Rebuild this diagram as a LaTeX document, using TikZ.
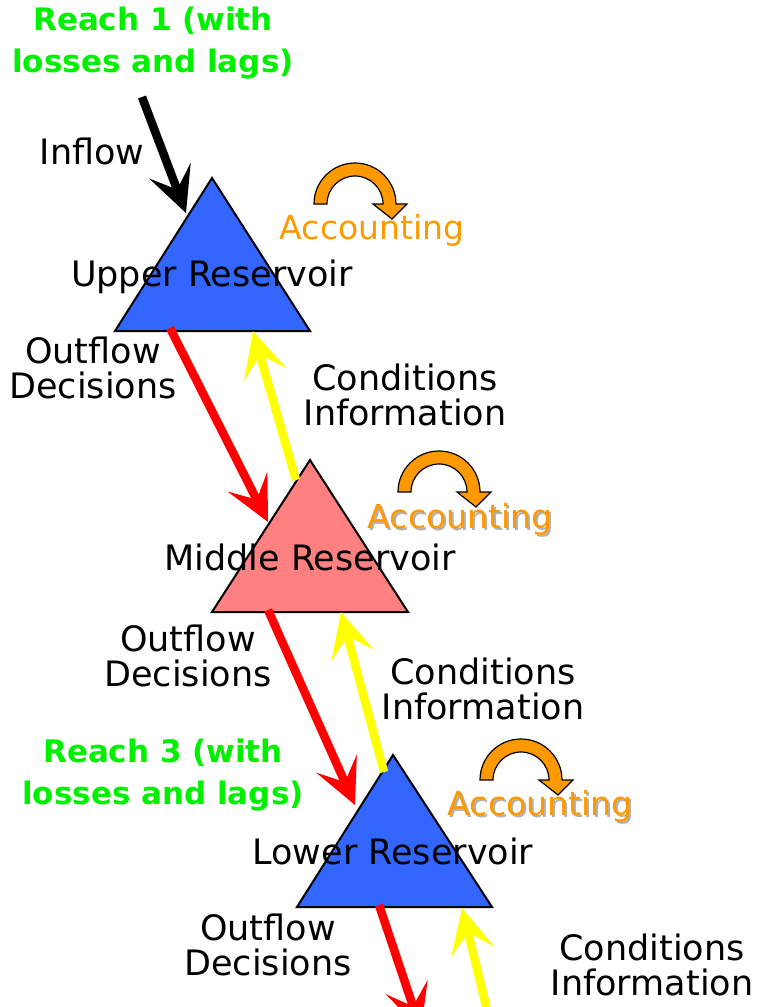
\documentclass[tikz,border=0pt]{standalone}
\usepackage{fontspec}
\setmainfont{DejaVu Sans}
\usetikzlibrary{arrows.meta}
\definecolor{resblue}{RGB}{51,102,255}
\definecolor{respink}{RGB}{255,128,128}
\definecolor{reachgreen}{RGB}{0,240,0}
\definecolor{accorange}{RGB}{255,153,0}
\definecolor{infoyellow}{RGB}{255,255,0}
\definecolor{decred}{RGB}{255,0,0}
\tikzset{
  res/.style={draw=black, line width=2pt, line join=miter},
  flowarrow/.style={line width=8.5pt, -{Stealth[length=45pt,width=44pt,inset=20pt]}},
  lbl/.style={inner sep=0pt, align=center, font=\fontsize{35}{35}\selectfont},
  reachlbl/.style={inner sep=0pt, align=center, text=reachgreen, font=\fontsize{31}{42}\selectfont\bfseries},
  acclbl/.style={inner sep=0pt, text=accorange, font=\fontsize{33}{33}\selectfont},
  accshape/.style={fill=accorange, draw=black, line width=1.2pt, line join=miter}
}
\newcommand{\accarrow}[2]{%
  \path[accshape] (#1-41,#2) arc[start angle=180, end angle=360, radius=41]
    -- (#1+52,#2) -- (#1+37,#2+15) -- (#1+18,#2) -- (#1+28,#2)
    arc[start angle=360, end angle=180, radius=28] -- cycle;}
\begin{document}
\begin{tikzpicture}[x=1pt,y=-1pt]
\useasboundingbox (0,0) rectangle (761,1007);
\clip (0,0) rectangle (761,1007);
% reservoirs
\path[res, fill=resblue] (212,178) -- (310,331) -- (115,331) -- cycle;
\path[res, fill=respink] (310,460) -- (408,612) -- (212,612) -- cycle;
\path[res, fill=resblue] (393,755) -- (492,907) -- (297,907) -- cycle;
% connector end points
\coordinate (inS) at (142,97);
\coordinate (inT) at (186,213);
\coordinate (d1S) at (170,328);
\coordinate (d1T) at (268,522);
\coordinate (c1S) at (296,480);
\coordinate (c1T) at (253,331);
\coordinate (d2S) at (268,610);
\coordinate (d2T) at (355,805);
\coordinate (c2S) at (384,772);
\coordinate (c2T) at (341,612);
\coordinate (d3S) at (379,905);
\coordinate (d3T) at (421,1030);
\coordinate (c3S) at (492,1030);
\coordinate (c3T) at (462,908);
% arrows
\draw[flowarrow, black] (inS) -- (inT);
\draw[flowarrow, decred] (d1S) -- (d1T);
\draw[flowarrow, infoyellow] (c1S) -- (c1T);
\draw[flowarrow, decred] (d2S) -- (d2T);
\draw[flowarrow, infoyellow] (c2S) -- (c2T);
\draw[flowarrow, decred] (d3S) -- (d3T);
\draw[flowarrow, infoyellow] (c3S) -- (c3T);
% accounting loops
\accarrow{355}{204}
\accarrow{439}{492}
\accarrow{521}{780}
% labels
\node[reachlbl] (reach1) at (153,43) {Reach 1 (with\\losses and lags)};
\node[lbl] (inflow) at (92,151) {Inflow};
\node[lbl] (upper) at (212,277) {Upper Reservoir};
\node[lbl] (out1) at (93,368) {Outflow\\Decisions};
\node[lbl] (cond1) at (405,395) {Conditions\\Information};
\node[acclbl] (acc1) at (372,230) {Accounting};
\node[lbl] (middle) at (310,557) {Middle Reservoir};
\node[lbl] (out2) at (188,656) {Outflow\\Decisions};
\node[lbl] (cond2) at (483,689) {Conditions\\Information};
\node[acclbl, text=gray!60] at (462,521) {Accounting};
\node[acclbl] (acc2) at (460,519) {Accounting};
\node[reachlbl] (reach3) at (163,775) {Reach 3 (with\\losses and lags)};
\node[lbl] (lower) at (393,851) {Lower Reservoir};
\node[lbl] (out3) at (268,945) {Outflow\\Decisions};
\node[lbl] (cond3) at (652,965) {Conditions\\Information};
\node[acclbl, text=gray!60] at (542,808) {Accounting};
\node[acclbl] (acc3) at (540,806) {Accounting};
\end{tikzpicture}
\end{document}
